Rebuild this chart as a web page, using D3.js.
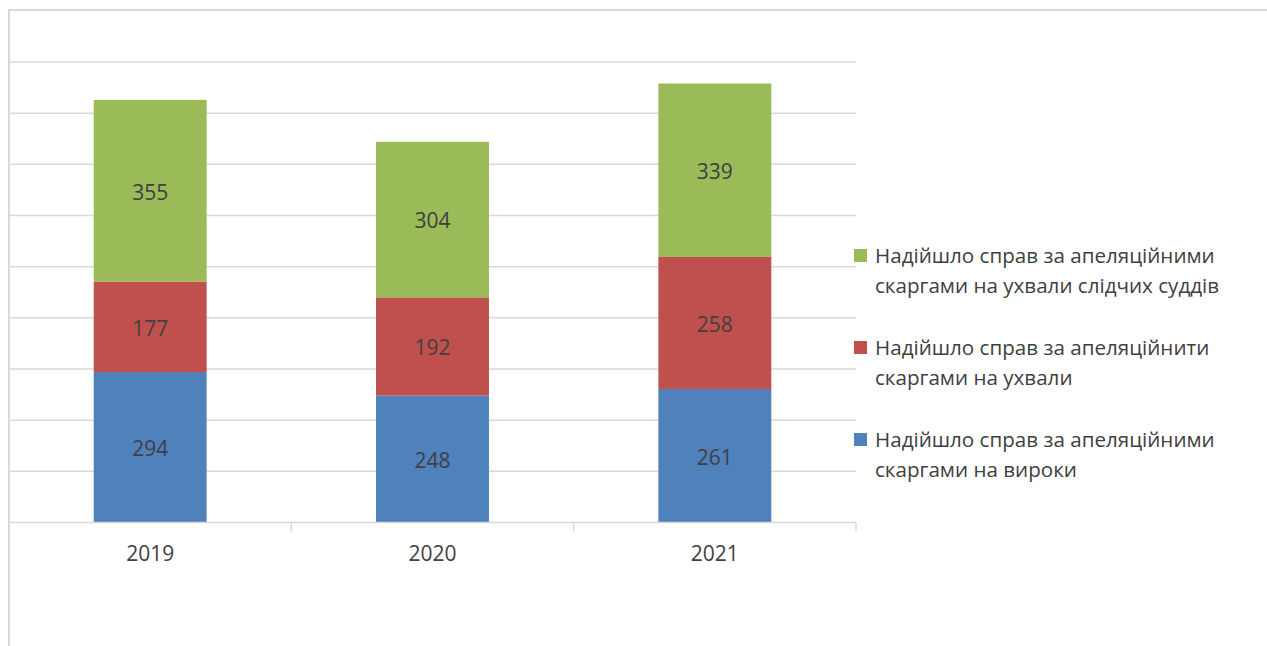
<!DOCTYPE html>
<html><head><meta charset="utf-8">
<script src="https://cdn.jsdelivr.net/npm/d3@7"></script>
<style>
html,body{margin:0;padding:0;background:#fff;}
svg{display:block;font-family:"Open Sans",sans-serif;}
</style></head>
<body><svg id="c" width="1267" height="646"></svg>
<script>
const years = ["2019","2020","2021"];
const verdicts = [294, 248, 261];
const rulings = [177, 192, 258];
const investigative = [355, 304, 339];
const seriesNames = [
  "Надійшло справ за апеляційними скаргами на вироки",
  "Надійшло справ за апеляційнити скаргами на ухвали",
  "Надійшло справ за апеляційними скаргами на ухвали слідчих суддів"
];
const legendLines = [
  ["Надійшло справ за апеляційними", "скаргами на вироки"],
  ["Надійшло справ за апеляційнити", "скаргами на ухвали"],
  ["Надійшло справ за апеляційними", "скаргами на ухвали слідчих суддів"]
];
const colors = ["#4F81BD", "#C0504D", "#9BBB59"];
const yTicks = [0,100,200,300,400,500,600,700,800,900];

(function(){
const svg = d3.select("#c");
const pLeft = 9, pRight = 856, pBottom = 522.5, pTop = 62;
const x = d3.scaleBand().domain(years).range([pLeft, pRight]).paddingInner(0.6).paddingOuter(0.3);
const xOuter = d3.scaleBand().domain(years).range([pLeft, pRight]);
const y = d3.scaleLinear().domain([0, 900]).range([pBottom, pTop]);

// frame
svg.append("path").attr("d", "M9,646V10H1267").attr("fill","none").attr("stroke","#D9D9D9").attr("stroke-width",2);

// gridlines
svg.append("g").selectAll("line").data(yTicks.slice(1)).join("line")
  .attr("x1", pLeft).attr("x2", pRight).attr("y1", d=>y(d)).attr("y2", d=>y(d))
  .attr("stroke","#D9D9D9").attr("stroke-width",1.5);

const data = years.map((yr,i)=>({year:yr, v0:verdicts[i], v1:rulings[i], v2:investigative[i]}));
const stack = d3.stack().keys(["v0","v1","v2"])(data);

const g = svg.append("g");
stack.forEach((s, si) => {
  g.append("g").selectAll("rect").data(s).join("rect")
    .attr("x", d => x(d.data.year))
    .attr("width", x.bandwidth())
    .attr("y", d => y(d[1]))
    .attr("height", d => y(d[0]) - y(d[1]))
    .attr("fill", colors[si]);
  g.append("g").selectAll("text").data(s).join("text")
    .attr("x", d => x(d.data.year) + x.bandwidth()/2)
    .attr("y", d => (y(d[0]) + y(d[1]))/2)
    .attr("dy","0.42em")
    .attr("text-anchor","middle")
    .attr("font-size", 21)
    .attr("fill","#404040")
    .text(d => d[1]-d[0]);
});

// x axis
const xAxis = svg.append("g").attr("transform", `translate(0,${pBottom})`);
xAxis.append("line").attr("x1", pLeft).attr("x2", pRight).attr("stroke","#D9D9D9").attr("stroke-width",1.5);
const tickPos = years.slice(1).map(yr => xOuter(yr)).concat([pRight]);
xAxis.selectAll("line.t").data(tickPos).join("line").attr("class","t")
  .attr("x1", d=>d).attr("x2", d=>d).attr("y1",0).attr("y2",9)
  .attr("stroke","#D9D9D9").attr("stroke-width",1.5);
xAxis.selectAll("text").data(years).join("text")
  .attr("x", d => xOuter(d) + xOuter.bandwidth()/2)
  .attr("y", 31).attr("dy","0.36em")
  .attr("text-anchor","middle").attr("font-size",21).attr("fill","#404040")
  .text(d=>d);

// legend (reverse order: top = green)
const legY = [256, 348, 440];
const leg = svg.append("g");
[2,1,0].forEach((si, k) => {
  const cy = legY[k];
  leg.append("rect").attr("x",854).attr("y",cy-7).attr("width",13).attr("height",13).attr("fill",colors[si]);
  const t = leg.append("text").attr("x",875).attr("y",cy)
    .attr("font-size",20.6).attr("fill","#404040");
  legendLines[si].forEach((ln, li) => {
    t.append("tspan").attr("x",875).attr("dy", li===0 ? "0.36em" : 30).text(ln);
  });
});
})();
</script></body></html>
